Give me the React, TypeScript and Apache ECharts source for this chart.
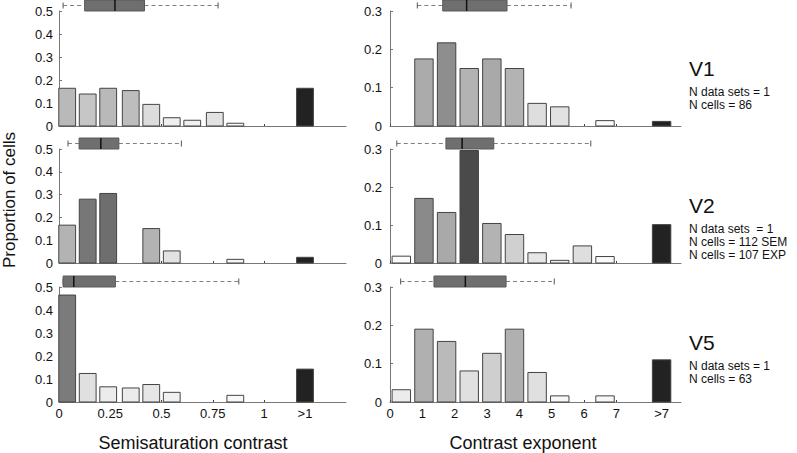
import React, { useEffect, useRef } from "react";
import * as echarts from "echarts";

// ---- data ----
const semiBins = [0.04, 0.14, 0.24, 0.35, 0.45, 0.55, 0.65, 0.76, 0.86, 0.96, 1.2];
const expBins = [0.35, 1.05, 1.75, 2.45, 3.15, 3.85, 4.55, 5.25, 5.95, 6.65, 8.4];

const semiTicks = [0, 0.25, 0.5, 0.75, 1, 1.2];
const semiTickLabels = ["0", "0.25", "0.5", "0.75", "1", ">1"];
const expTicks = [0, 1, 2, 3, 4, 5, 6, 7, 8.4];
const expTickLabels = ["0", "1", "2", "3", "4", "5", "6", "7", ">7"];

const v1Semi = [0.164, 0.139, 0.164, 0.154, 0.094, 0.036, 0.025, 0.059, 0.012, 0, 0.164];
const v1Exp = [0, 0.175, 0.217, 0.15, 0.175, 0.15, 0.059, 0.05, 0, 0.014, 0.012];
const v2Semi = [0.166, 0.28, 0.305, 0, 0.151, 0.053, 0, 0, 0.016, 0, 0.025];
const v2Exp = [0.018, 0.17, 0.133, 0.296, 0.104, 0.075, 0.027, 0.007, 0.045, 0.017, 0.101];
const v5Semi = [0.465, 0.124, 0.066, 0.061, 0.076, 0.042, 0, 0, 0.029, 0, 0.143];
const v5Exp = [0.032, 0.19, 0.158, 0.081, 0.127, 0.19, 0.077, 0.016, 0, 0.016, 0.11];

// box plot stats: [low whisker, q1, median, q3, high whisker]
const v1SemiBox = [0.02, 0.125, 0.273, 0.417, 0.776];
const v2SemiBox = [0.044, 0.098, 0.204, 0.292, 0.597];
const v5SemiBox = [0.02, 0.02, 0.072, 0.275, 0.877];
const v1ExpBox = [0.845, 1.63, 2.37, 3.62, 5.6];
const v2ExpBox = [0.21, 1.73, 2.23, 3.21, 6.21];
const v5ExpBox = [0.33, 1.36, 2.33, 3.59, 5.08];

const areaNames = ["V1", "V2", "V5"];
const areaNotes = [
  ["N data sets = 1", "N cells = 86"],
  ["N data sets  = 1", "N cells = 112 SEM", "N cells = 107 EXP"],
  ["N data sets = 1", "N cells = 63"],
];

// ---- styles (bar shades) ----
const v1SemiFill = ["#b9b9b9", "#c6c6c6", "#b9b9b9", "#bdbdbd", "#dcdcdc", "#efefef", "#f0f0f0", "#e2e2e2", "#fafafa", "#fff", "#222"];
const v1ExpFill = ["#fff", "#ababab", "#8e8e8e", "#b3b3b3", "#a9a9a9", "#b3b3b3", "#dedede", "#e2e2e2", "#fff", "#fafafa", "#222"];
const v2SemiFill = ["#b3b3b3", "#777", "#6e6e6e", "#fff", "#b3b3b3", "#e2e2e2", "#fff", "#fff", "#f5f5f5", "#fff", "#222"];
const v2ExpFill = ["#fafafa", "#8a8a8a", "#a9a9a9", "#4a4a4a", "#b3b3b3", "#d0d0d0", "#e6e6e6", "#f2f2f2", "#dedede", "#fafafa", "#222"];
const v5SemiFill = ["#7b7b7b", "#e0e0e0", "#ececec", "#ececec", "#e6e6e6", "#f0f0f0", "#fff", "#fff", "#f8f8f8", "#fff", "#222"];
const v5ExpFill = ["#ececec", "#b0b0b0", "#bababa", "#e0e0e0", "#cfcfcf", "#b0b0b0", "#e0e0e0", "#f8f8f8", "#fff", "#f8f8f8", "#222"];

const FONT = "Liberation Sans, Arial, sans-serif";

export default function App() {
  const ref = useRef<HTMLDivElement>(null);

  useEffect(() => {
    if (!ref.current) return;
    const chart = echarts.init(ref.current, undefined, { renderer: "svg" });

    const rowTops = [11, 149, 287];
    const rowHeights = [115, 114, 115];
    const panels = [
      { col: 0, row: 0, bins: semiBins, vals: v1Semi, fills: v1SemiFill, box: v1SemiBox },
      { col: 1, row: 0, bins: expBins, vals: v1Exp, fills: v1ExpFill, box: v1ExpBox },
      { col: 0, row: 1, bins: semiBins, vals: v2Semi, fills: v2SemiFill, box: v2SemiBox },
      { col: 1, row: 1, bins: expBins, vals: v2Exp, fills: v2ExpFill, box: v2ExpBox },
      { col: 0, row: 2, bins: semiBins, vals: v5Semi, fills: v5SemiFill, box: v5SemiBox },
      { col: 1, row: 2, bins: expBins, vals: v5Exp, fills: v5ExpFill, box: v5ExpBox },
    ];

    const grid: any[] = [];
    const xAxis: any[] = [];
    const yAxis: any[] = [];
    const series: any[] = [];

    const axisLineStyle = { color: "#777", width: 1 };

    panels.forEach((p, i) => {
      const left = p.col === 0;
      const yMax = left ? 0.5 : 0.3;
      const xMax = left ? 1.4 : 9;
      const barW = left ? 0.082 : 0.57;
      grid.push({
        left: left ? 59 : 390,
        top: rowTops[p.row],
        width: left ? 287 : 291,
        height: rowHeights[p.row],
      });
      const ticks = left ? semiTicks : expTicks;
      const tickLabels = left ? semiTickLabels : expTickLabels;
      xAxis.push({
        type: "value",
        gridIndex: i,
        min: 0,
        max: xMax,
        splitLine: { show: false },
        axisLine: { show: true, lineStyle: axisLineStyle },
        axisTick: { show: true, inside: true, length: 2, customValues: ticks, lineStyle: { color: "#444" } },
        axisLabel: {
          show: p.row === 2,
          customValues: ticks,
          margin: 5,
          fontFamily: FONT,
          fontSize: 13,
          color: "#111",
          formatter: (v: number) => {
            const k = ticks.findIndex((t) => Math.abs(t - v) < 1e-6);
            return k >= 0 ? tickLabels[k] : "";
          },
        },
      });
      yAxis.push({
        type: "value",
        gridIndex: i,
        min: 0,
        max: yMax,
        interval: 0.1,
        splitLine: { show: false },
        axisLine: { show: true, onZero: false, lineStyle: axisLineStyle },
        axisTick: { show: true, inside: true, length: 3, lineStyle: { color: "#777" } },
        axisLabel: {
          margin: left ? 6 : 8,
          fontFamily: FONT,
          fontSize: 13,
          color: "#111",
          formatter: (v: number) => String(+v.toFixed(1)),
        },
      });

      const fills = p.fills;
      series.push({
        type: "custom",
        xAxisIndex: i,
        yAxisIndex: i,
        clip: false,
        data: p.bins.map((b, k) => [b, p.vals[k]]),
        renderItem: (params: any, api: any) => {
          const x = api.value(0);
          const y = api.value(1);
          if (!(y > 0)) return null;
          const p0 = api.coord([x, 0]);
          const p1 = api.coord([x, y]);
          const w = api.size([barW, 0])[0];
          return {
            type: "rect",
            shape: { x: p0[0] - w / 2, y: p1[1], width: w, height: p0[1] - p1[1] },
            style: { fill: fills[params.dataIndex], stroke: "#444", lineWidth: 1 },
          };
        },
      });

      const box = p.box;
      series.push({
        type: "custom",
        xAxisIndex: i,
        yAxisIndex: i,
        clip: false,
        data: [[0, yMax]],
        renderItem: (_params: any, api: any) => {
          const top = api.coord([0, yMax])[1];
          const cy = top - 5.5;
          const h = 11;
          const px = box.map((v) => api.coord([v, yMax])[0]);
          const dash = { stroke: "#808080", lineWidth: 1, lineDash: [4, 3] };
          return {
            type: "group",
            children: [
              { type: "line", shape: { x1: px[0], y1: cy, x2: px[1], y2: cy }, style: dash },
              { type: "line", shape: { x1: px[3], y1: cy, x2: px[4], y2: cy }, style: dash },
              { type: "line", shape: { x1: px[0], y1: cy - 3, x2: px[0], y2: cy + 3 }, style: { stroke: "#555", lineWidth: 1 } },
              { type: "line", shape: { x1: px[4], y1: cy - 3, x2: px[4], y2: cy + 3 }, style: { stroke: "#555", lineWidth: 1 } },
              {
                type: "rect",
                shape: { x: px[1], y: cy - h / 2, width: px[3] - px[1], height: h },
                style: { fill: "#6f6f6f", stroke: "#5a5a5a", lineWidth: 1 },
              },
              { type: "line", shape: { x1: px[2], y1: cy - h / 2, x2: px[2], y2: cy + h / 2 }, style: { stroke: "#111", lineWidth: 1.5 } },
            ],
          };
        },
      });
    });

    const vCenters = [68, 205, 342];
    const graphic: any[] = [];
    areaNames.forEach((name, r) => {
      graphic.push({
        type: "text",
        x: 689,
        y: vCenters[r],
        style: { text: name, font: `21px ${FONT}`, fill: "#111", textVerticalAlign: "middle" },
      });
      areaNotes[r].forEach((line, j) => {
        graphic.push({
          type: "text",
          x: 689,
          y: vCenters[r] + 24 + j * 13,
          style: { text: line, font: `12px ${FONT}`, fill: "#111", textVerticalAlign: "middle" },
        });
      });
    });
    graphic.push({
      type: "text",
      x: 9,
      y: 200,
      rotation: Math.PI / 2,
      style: { text: "Proportion of cells", font: `17px ${FONT}`, fill: "#111", textAlign: "center", textVerticalAlign: "middle" },
    });
    graphic.push({
      type: "text",
      x: 193,
      y: 443,
      style: { text: "Semisaturation contrast", font: `18px ${FONT}`, fill: "#111", textAlign: "center", textVerticalAlign: "middle" },
    });
    graphic.push({
      type: "text",
      x: 523,
      y: 443,
      style: { text: "Contrast exponent", font: `18px ${FONT}`, fill: "#111", textAlign: "center", textVerticalAlign: "middle" },
    });

    chart.setOption({
      animation: false,
      backgroundColor: "#fff",
      grid,
      xAxis,
      yAxis,
      series,
      graphic,
    });

    return () => chart.dispose();
  }, []);

  return (
    <div
      ref={ref}
      style={{ position: "fixed", left: 0, top: 0, width: 797, height: 453 }}
    />
  );
}
